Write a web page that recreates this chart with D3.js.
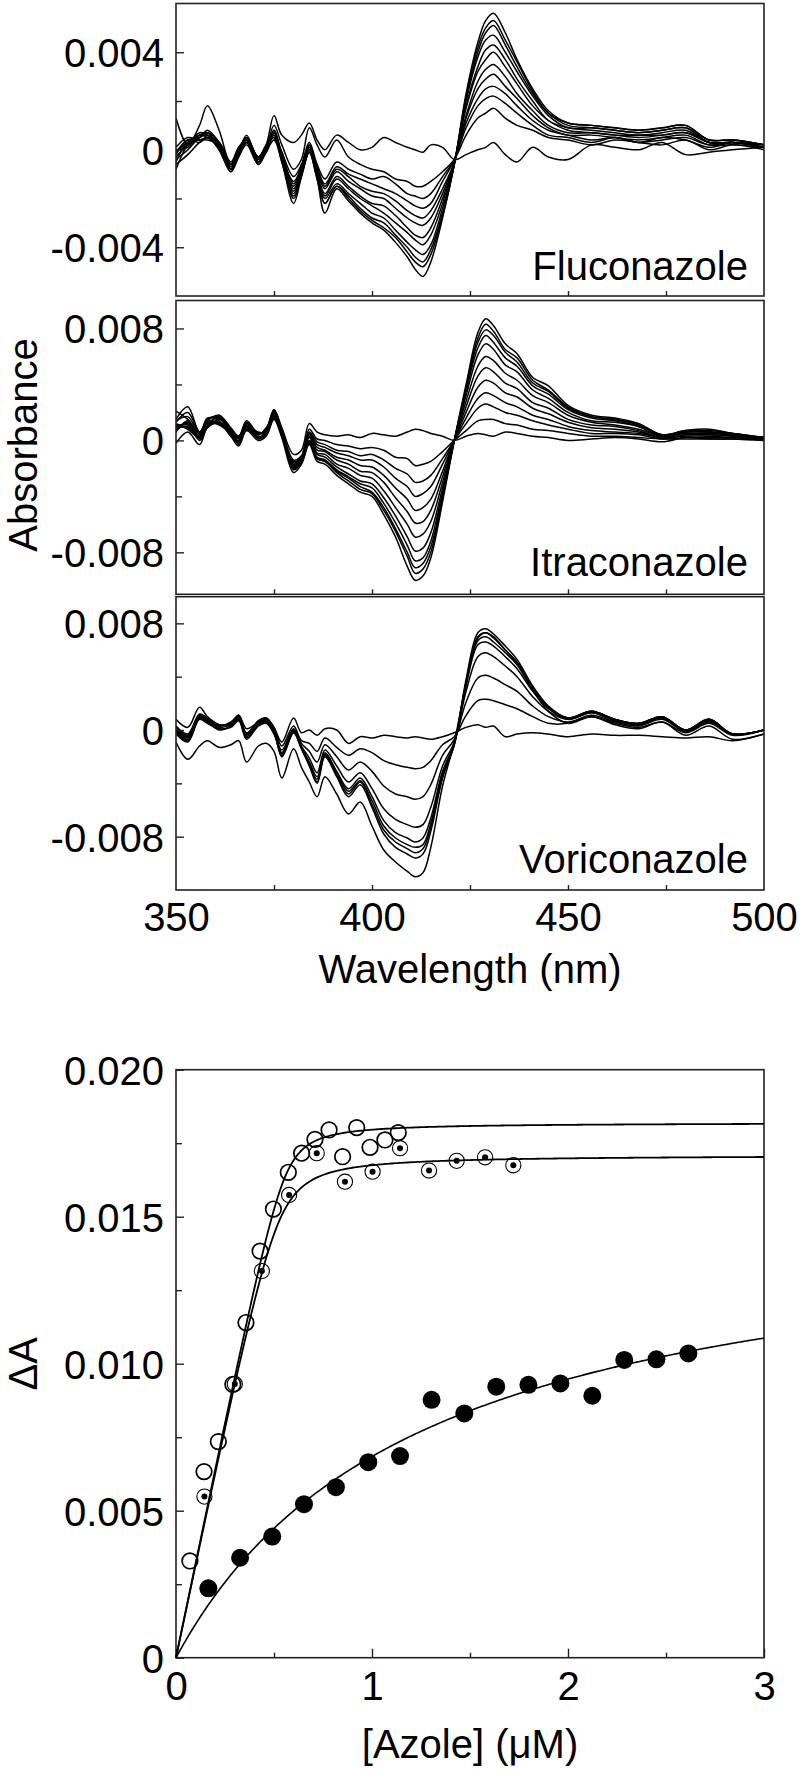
<!DOCTYPE html>
<html><head><meta charset="utf-8">
<script src="https://cdn.jsdelivr.net/npm/d3@7"></script>
<style>
body{margin:0;background:#fff}
svg{display:block}
text{font-family:"Liberation Sans",Arial,Helvetica,sans-serif;fill:#000}
</style>
</head><body>
<svg id="c" width="800" height="1769"></svg>
<script>
// ---------- Spectra data (absorbance in units of 0.001) ----------
const wavelengths = [350,353,356,358,361,364,366,368,371,373,375,377,380,382,384,386,388,391,394,397,400,403,406,409,411,413,415,418,421,424,427,429,431,434,437,441,445,450,456,462,468,474,480,486,492,500];

const fluconazoleCurves = [
 [1.3,0.2,1.0,1.8,0.8,-0.6,0.0,0.5,-0.3,0.2,1.4,0.6, 0.3,0.6,1.1,0.4,0.0,0.6,0.3,0.0,0.1,0.5, 0.3,0.1,0.0,-0.1,0.2,0.1,-0.4,-0.2,0.0,0.1, 0.3,-0.2,-0.5,0.1,-0.3,-0.4,0.2,0.1,0.0,0.3, -0.2,-0.1,0.0,0.1],
 [-0.1,0.4,0.5,0.8,0.3,-0.6,0.0,0.4,-0.3,0.1,1.0,0.2, -0.8,-0.4,0.9,0.2,-0.3,0.4,-0.3,-0.6,-0.8,-0.9, -1.2,-1.3,-1.5,-1.5,-1.3,-0.9,-0.4,0.6,1.3,1.5, 1.7,1.3,1.0,0.8,0.5,0.4,0.2,0.4,0.3,0.2, 0.4,0.0,0.2,0.0],
 [-0.8,0.2,0.6,0.7,0.1,-0.8,-0.2,0.5,-0.5,0.0,0.7,-0.1, -1.1,-0.6,0.3,-0.6,-1.2,-0.5,-0.8,-1.0,-1.2,-1.1, -1.4,-1.8,-1.9,-2.0,-1.8,-1.1,-0.4,0.9,1.8,2.1, 2.2,1.9,1.5,1.0,0.6,0.5,0.3,0.5,0.3,0.4, 0.5,0.2,0.3,0.1],
 [0.1,0.5,0.4,0.5,0.3,-0.5,0.1,0.3,-0.3,0.2,0.5,-0.3, -1.3,-0.7,0.2,-0.7,-1.4,-0.7,-1.0,-1.2,-1.4,-1.6, -1.8,-2.1,-2.3,-2.4,-2.2,-1.3,-0.4,1.1,2.1,2.5, 2.6,2.3,1.8,1.2,0.8,0.6,0.4,0.5,0.3,0.5, 0.4,0.1,0.3,0.1],
 [-0.3,0.2,0.7,0.6,0.0,-0.9,-0.1,0.4,-0.5,-0.1,0.8,-0.2, -1.4,-0.7,0.2,-0.8,-1.5,-0.8,-1.1,-1.5,-1.7,-1.8, -2.1,-2.5,-2.7,-2.8,-2.5,-1.6,-0.5,1.3,2.5,2.9, 3.1,2.6,2.1,1.4,0.9,0.6,0.6,0.5,0.4,0.5, 0.6,0.2,0.2,0.1],
 [-0.5,0.3,0.4,0.4,0.2,-0.7,0.0,0.5,-0.4,0.1,0.6,-0.4, -1.5,-0.8,0.1,-0.8,-1.6,-0.9,-1.3,-1.6,-1.9,-2.0, -2.4,-2.8,-3.0,-3.1,-2.8,-1.8,-0.5,1.4,2.8,3.3, 3.5,3.0,2.3,1.6,1.0,0.7,0.7,0.6,0.5,0.6, 0.7,0.3,0.3,0.1],
 [0.0,0.1,0.6,0.7,0.3,-0.6,-0.2,0.3,-0.5,0.0,0.4,-0.1, -1.6,-0.9,0.1,-0.9,-1.8,-1.1,-1.5,-1.9,-2.2,-2.3, -2.7,-3.2,-3.5,-3.6,-3.2,-2.0,-0.5,1.7,3.2,3.7, 4.0,3.4,2.7,1.8,1.2,0.8,0.7,0.6,0.6,0.6, 0.7,0.3,0.3,0.1],
 [-0.2,0.4,0.3,0.5,0.1,-0.8,0.1,0.4,-0.3,-0.1,0.7,-0.3, -1.7,-0.9,0.0,-1.0,-1.9,-1.2,-1.6,-2.0,-2.3,-2.6, -3.0,-3.4,-3.7,-3.9,-3.5,-2.2,-0.5,1.8,3.4,4.1, 4.3,3.7,2.9,2.0,1.2,0.9,0.8,0.7,0.6,0.7, 0.8,0.3,0.3,0.2],
 [-0.4,0.0,0.5,0.6,0.2,-0.7,-0.1,0.6,-0.4,0.1,0.5,-0.2, -1.8,-1.0,0.0,-1.1,-2.0,-1.4,-1.8,-2.2,-2.6,-2.8, -3.3,-3.8,-4.1,-4.3,-3.9,-2.4,-0.6,2.0,3.8,4.5, 4.7,4.0,3.2,2.2,1.4,0.9,0.9,0.8,0.7,0.8, 0.9,0.3,0.3,0.2],
 [-0.1,0.3,0.6,0.5,0.1,-0.6,0.0,0.3,-0.6,0.0,0.6,-0.5, -1.9,-1.0,-0.1,-1.1,-2.2,-1.5,-1.9,-2.4,-2.8,-3.0, -3.5,-4.0,-4.4,-4.6,-4.1,-2.6,-0.6,2.1,4.0,4.8, 5.1,4.3,3.4,2.3,1.5,1.0,0.9,0.8,0.7,0.8, 0.9,0.4,0.4,0.2],
 [-0.3,0.2,0.5,0.7,0.3,-0.8,-0.2,0.4,-0.4,0.1,0.8,-0.3, -2.0,-1.1,-0.1,-1.2,-2.2,-1.5,-2.0,-2.5,-2.9,-3.2, -3.6,-4.2,-4.6,-4.8,-4.3,-2.7,-0.6,2.2,4.2,5.0, 5.3,4.5,3.6,2.4,1.5,1.1,1.0,0.9,0.8,0.9, 1.0,0.4,0.4,0.2],
 [-0.6,-0.2,0.3,0.5,0.0,-0.9,-0.3,0.2,-0.6,-0.1,0.4,-0.5, -2.2,-1.1,-0.1,-1.2,-2.6,-1.6,-2.1,-2.6,-3.0,-3.3, -3.8,-4.4,-4.9,-5.2,-4.6,-2.8,-0.6,2.3,4.4,5.3, 5.6,4.8,3.7,2.5,1.6,1.1,1.0,0.9,0.8,0.9, 1.0,0.4,0.4,0.2]
];

const itraconazoleCurves = [
 [1.5,2.4,0.6,1.4,1.8,0.9,0.3,1.2,0.5,0.8,2.2,0.9, -1.0,-0.7,1.2,0.6,0.4,0.3,0.4,0.2,0.5,0.4, 0.3,0.6,0.8,0.7,0.5,0.3,0.0,0.3,0.5,0.4, 0.3,0.6,0.5,0.3,0.2,0.0,0.1,0.2,0.1,-0.1, 0.2,0.1,0.1,0.0],
 [1.3,2.0,0.6,1.5,1.7,0.8,0.3,1.4,0.5,0.8,2.2,0.8, -1.4,-1.1,0.8,0.1,0.0,-0.3,-0.4,-0.6,-0.5,-0.7, -1.2,-1.3,-1.8,-1.7,-1.5,-0.8,0.0,0.7,1.4,1.5, 1.5,1.2,1.1,0.8,0.7,0.5,0.3,0.3,0.2,0.1, 0.1,0.1,0.1,0.0],
 [0.8,1.0,0.2,1.1,1.3,0.4,-0.1,0.9,0.2,0.5,1.7,0.5, -1.5,-1.2,0.6,-0.1,-0.3,-0.7,-0.8,-1.1,-1.0,-1.4, -2.0,-2.4,-3.0,-2.9,-2.5,-1.3,0.0,1.2,2.3,2.6, 2.4,2.0,1.8,1.4,1.1,0.8,0.5,0.5,0.4,0.1, 0.2,0.2,0.2,0.1],
 [2.1,1.5,0.5,1.0,1.8,0.7,0.2,0.7,0.5,0.7,2.0,0.4, -1.6,-1.2,0.5,-0.3,-0.5,-0.9,-1.1,-1.4,-1.4,-1.9, -2.7,-3.3,-4.0,-3.8,-3.3,-1.7,0.0,1.6,3.0,3.4, 3.2,2.7,2.4,1.8,1.5,1.0,0.7,0.6,0.5,0.2, 0.3,0.3,0.2,0.1],
 [0.9,1.2,0.1,1.4,1.2,0.5,-0.3,1.1,0.1,0.4,1.8,0.7, -1.7,-1.3,0.4,-0.5,-0.7,-1.2,-1.4,-1.8,-1.9,-2.5, -3.4,-4.2,-5.0,-4.8,-4.2,-2.2,0.0,2.0,3.8,4.3, 4.1,3.4,3.1,2.3,1.9,1.3,0.9,0.8,0.6,0.2, 0.4,0.4,0.3,0.1],
 [1.2,0.9,0.4,1.6,1.4,0.3,0.0,1.2,0.4,0.9,1.6,0.5, -1.8,-1.4,0.3,-0.7,-0.8,-1.4,-1.7,-2.2,-2.3,-3.0, -4.1,-5.1,-5.9,-5.8,-5.0,-2.6,0.0,2.4,4.6,5.2, 4.9,4.1,3.7,2.7,2.3,1.5,1.1,1.0,0.7,0.2, 0.4,0.4,0.3,0.1],
 [0.6,1.4,0.3,1.2,1.6,0.6,0.2,0.8,0.2,0.5,1.9,0.6, -1.9,-1.4,0.2,-0.9,-1.0,-1.7,-2.0,-2.5,-2.7,-3.6, -4.8,-6.0,-6.9,-6.7,-5.8,-3.0,0.0,2.8,5.3,6.0, 5.7,4.8,4.3,3.2,2.7,1.8,1.3,1.1,0.8,0.3, 0.5,0.5,0.4,0.1],
 [1.0,1.1,0.0,0.9,1.5,0.8,-0.2,1.0,0.6,0.6,2.1,0.3, -1.9,-1.5,0.0,-1.0,-1.2,-1.9,-2.4,-2.9,-3.1,-4.1, -5.4,-6.9,-7.9,-7.7,-6.6,-3.4,0.0,3.2,6.1,6.9, 6.5,5.4,4.9,3.6,3.0,2.0,1.4,1.3,1.0,0.3, 0.6,0.6,0.4,0.2],
 [1.4,1.7,0.5,1.3,1.1,0.5,0.1,0.9,0.3,0.4,1.7,0.6, -2.0,-1.5,0.0,-1.2,-1.4,-2.1,-2.6,-3.1,-3.4,-4.5, -5.9,-7.5,-8.6,-8.4,-7.2,-3.7,0.0,3.5,6.6,7.5, 7.0,5.9,5.3,3.9,3.3,2.2,1.6,1.4,1.0,0.3, 0.6,0.6,0.4,0.2],
 [0.7,1.3,0.3,1.5,1.6,0.4,-0.1,1.3,0.2,0.7,2.0,0.4, -2.0,-1.6,-0.1,-1.3,-1.5,-2.2,-2.7,-3.3,-3.7,-4.8, -6.3,-8.0,-9.1,-8.8,-7.6,-4.0,0.0,3.7,7.0,7.9, 7.5,6.3,5.6,4.1,3.5,2.3,1.7,1.5,1.1,0.4, 0.6,0.6,0.5,0.2],
 [1.1,0.8,0.2,1.1,1.3,0.7,0.3,1.0,0.5,0.6,1.8,0.7, -2.1,-1.6,-0.2,-1.3,-1.5,-2.3,-2.9,-3.5,-3.8,-5.0, -6.5,-8.3,-9.5,-9.2,-8.0,-4.1,0.0,3.8,7.3,8.3, 7.8,6.5,5.9,4.3,3.6,2.4,1.7,1.5,1.2,0.4, 0.7,0.7,0.5,0.2],
 [-0.2,0.6,-0.3,0.9,1.2,0.3,-0.4,0.7,0.0,0.3,1.5,0.2, -2.3,-1.7,-0.3,-1.5,-1.7,-2.5,-3.1,-3.7,-4.0,-5.3, -6.9,-9.0,-10.0,-9.7,-8.4,-4.4,0.0,4.0,7.7,8.7, 8.2,6.9,6.2,4.5,3.9,2.5,1.8,1.6,1.2,0.4, 0.7,0.8,0.5,0.2]
];

const voriconazoleCurves = [
 [0.8,0.2,1.7,1.0,0.4,0.5,1.1,0.1,0.6,0.9,0.2,-0.9, 0.9,-0.2,0.0,-0.4,0.1,0.0,-1.0,-0.5,-0.6,-0.4, -0.5,-0.6,-0.5,-0.6,-0.7,-0.5,-0.2,0.2,0.4,0.2, 0.3,-0.5,-0.3,-0.2,-0.3,-0.5,-0.3,-0.4,-0.4,-0.5, -0.6,-0.5,-0.8,-0.3],
 [0.3,-0.3,1.2,0.9,0.4,0.5,1.0,-0.2,0.6,0.8,0.2,-1.2, 0.3,-0.8,-1.0,-1.6,-0.6,-1.3,-1.9,-1.4,-1.7,-2.3, -2.6,-2.8,-2.9,-2.8,-2.3,-1.1,-0.5,1.1,2.2,2.3, 2.2,1.9,1.6,1.0,0.5,0.5,1.0,0.5,0.2,0.6, -0.2,0.5,-0.4,0.0],
 [-0.2,-0.8,0.9,0.6,0.0,0.3,0.8,-0.6,0.4,0.6,-0.2,-1.5, 0.1,-1.0,-1.6,-2.4,-1.1,-2.0,-3.0,-2.4,-3.1,-4.2, -4.8,-5.0,-5.2,-5.0,-4.1,-1.9,-0.7,2.1,3.9,4.1, 3.9,3.4,2.9,1.8,1.0,0.6,1.1,0.6,0.3,0.8, -0.1,0.6,-0.3,0.0],
 [0.1,-0.5,1.1,0.8,0.3,0.6,1.1,-0.3,0.7,0.9,0.1,-1.7, 0.0,-1.2,-2.1,-3.2,-1.5,-2.7,-3.9,-3.2,-4.4,-5.9, -6.7,-7.1,-7.3,-7.1,-5.8,-2.7,-0.9,2.9,5.5,5.8, 5.5,4.8,4.0,2.5,1.4,0.8,1.3,0.7,0.4,0.9, -0.1,0.7,-0.3,0.0],
 [-0.3,-0.9,0.8,0.5,0.1,0.2,0.7,-0.7,0.3,0.5,-0.3,-1.8, -0.1,-1.3,-2.4,-3.5,-1.7,-3.1,-4.4,-3.6,-5.0,-6.8, -7.7,-8.1,-8.4,-8.1,-6.6,-3.1,-1.0,3.3,6.4,6.6, 6.3,5.5,4.6,2.9,1.6,0.8,1.3,0.7,0.4,0.9, 0.0,0.7,-0.3,0.0],
 [0.2,-0.4,1.0,0.7,0.2,0.4,0.9,-0.4,0.5,0.7,0.0,-1.9, -0.1,-1.3,-2.5,-3.7,-1.8,-3.2,-4.6,-3.8,-5.3,-7.2, -8.1,-8.6,-8.8,-8.6,-7.0,-3.3,-1.0,3.5,6.7,7.0, 6.6,5.8,4.9,3.0,1.7,0.9,1.4,0.8,0.5,1.0, 0.0,0.8,-0.3,0.0],
 [-0.1,-0.7,1.1,0.6,0.3,0.5,0.8,-0.5,0.4,0.8,-0.1,-2.0, -0.2,-1.4,-2.6,-3.9,-1.9,-3.4,-4.8,-3.9,-5.6,-7.5, -8.4,-8.9,-9.2,-8.9,-7.3,-3.5,-1.1,3.6,7.0,7.3, 6.9,6.0,5.1,3.2,1.7,0.9,1.4,0.8,0.5,1.0, 0.0,0.8,-0.3,0.0],
 [0.0,-0.6,0.9,0.8,0.1,0.3,1.0,-0.3,0.6,0.6,0.0,-2.0, -0.2,-1.4,-2.7,-4.0,-2.0,-3.5,-5.0,-4.1,-5.8,-7.8, -8.8,-9.3,-9.6,-9.3,-7.6,-3.6,-1.1,3.8,7.3,7.6, 7.2,6.3,5.3,3.3,1.8,0.9,1.4,0.8,0.5,1.0, 0.0,0.8,-0.3,0.0],
 [-0.9,-2.2,-1.2,-0.8,-1.3,-1.1,-0.8,-2.4,-1.2,-1.0,-1.6,-3.6, -1.4,-2.8,-3.9,-5.0,-3.5,-4.8,-6.3,-5.4,-7.2,-9.0, -9.9,-10.6,-11.0,-10.7,-8.8,-4.2,-0.9,3.5,6.9,7.3, 7.0,6.0,5.0,3.0,1.4,0.5,1.0,0.4,0.1,0.6, -0.4,0.3,-0.7,-0.3]
];

const specNames = ["Fluconazole","Itraconazole","Voriconazole"];
const specYDomains = [[-0.006,0.006],[-0.011,0.010],[-0.012,0.010]];
const specYTicks = [[-0.004,0,0.004],[-0.008,0,0.008],[-0.008,0,0.008]];
const specYTickLabels = [["-0.004","0","0.004"],["-0.008","0","0.008"],["-0.008","0","0.008"]];
const specYMinor = [[-0.002,0.002],[-0.004,0.004],[-0.004,0.004]];
const specXTicks = [350,400,450,500];
const specXTickLabels = ["350","400","450","500"];
const specXMinor = [375,400,425,450,475];

// ---------- Titration data ----------
const openX = [0.071,0.143,0.216,0.29,0.357,0.429,0.497,0.573,0.641,0.709,0.781,0.85,0.922,0.99,1.066,1.134];
const openY = [0.00329,0.00633,0.00735,0.0093,0.0114,0.01383,0.01526,0.01651,0.01716,0.01763,0.01795,0.01704,0.01803,0.01736,0.01761,0.01786];
const dotX = [0.145,0.3,0.438,0.577,0.718,0.862,1.003,1.143,1.291,1.432,1.577,1.721];
const dotY = [0.00548,0.00931,0.01315,0.01574,0.01716,0.01619,0.01653,0.01733,0.01657,0.0169,0.01702,0.01675];
const filledX = [0.165,0.327,0.491,0.653,0.816,0.981,1.143,1.304,1.471,1.634,1.798,1.961,2.124,2.287,2.451,2.614];
const filledY = [0.00236,0.0034,0.00412,0.00522,0.0058,0.00665,0.00686,0.00877,0.00831,0.00922,0.00928,0.00933,0.00891,0.01013,0.01015,0.01035];
// fitted binding parameters
const fitOpen = {amax:0.0182, enz:0.56, kd:0.006};
const fitDot = {amax:0.0171, enz:0.53, kd:0.010};
const fitFilled = {amax:0.0154, kd:1.25};
const bindYTicks = [0,0.005,0.010,0.015,0.020];
const bindYTickLabels = ["0","0.005","0.010","0.015","0.020"];
const bindYMinor = [0.0025,0.0075,0.0125,0.0175];
const bindXTicks = [0,1,2,3];
const bindXTickLabels = ["0","1","2","3"];
const bindXMinor = [0.5,1.5,2.5];

// ---------- Drawing ----------
const svg = d3.select("#c");
const FONT = 40;
const X0 = 176, X1 = 764;
const panelBoxes = [{top:3.5,bottom:296},{top:300.5,bottom:594.3},{top:596.7,bottom:890}];
const allCurves = [fluconazoleCurves, itraconazoleCurves, voriconazoleCurves];
const x = d3.scaleLinear().domain([350,500]).range([X0,X1]);

function styleAxis(g){
  g.select(".domain").remove();
  g.selectAll(".tick line").attr("stroke","#222").attr("stroke-width",1.4);
  g.selectAll(".tick text").attr("font-size",FONT).attr("font-family","Liberation Sans, Arial, sans-serif").attr("fill","#000");
  g.attr("font-size",null).attr("font-family",null);
}

panelBoxes.forEach((b,pi)=>{
  const y = d3.scaleLinear().domain(specYDomains[pi]).range([b.bottom,b.top]);
  const g = svg.append("g");
  const clipId = "clip"+pi;
  svg.append("clipPath").attr("id",clipId).append("rect")
    .attr("x",X0).attr("y",b.top).attr("width",X1-X0).attr("height",b.bottom-b.top);
  const line = d3.line()
    .x((d,i)=>x(wavelengths[i]))
    .y(d=>y(d*0.001))
    .curve(d3.curveCatmullRom.alpha(0.5));
  g.append("g").attr("clip-path",`url(#${clipId})`)
    .selectAll("path").data(allCurves[pi]).join("path")
    .attr("d",line).attr("fill","none").attr("stroke","#000").attr("stroke-width",1.5).attr("stroke-linejoin","round");

  const ya = g.append("g").attr("transform",`translate(${X0},0)`)
    .call(d3.axisLeft(y).tickValues(specYTicks[pi]).tickSize(-8).tickPadding(12)
      .tickFormat((d,i)=>specYTickLabels[pi][i]));
  styleAxis(ya);
  ya.selectAll(".tick text").attr("dy","0.36em");
  const ym = g.append("g").attr("transform",`translate(${X0},0)`)
    .call(d3.axisLeft(y).tickValues(specYMinor[pi]).tickSize(-6).tickFormat(()=>""));
  styleAxis(ym);
  const xm = g.append("g").attr("transform",`translate(0,${b.bottom})`)
    .call(d3.axisBottom(x).tickValues(specXMinor).tickSize(-5).tickFormat(()=>""));
  styleAxis(xm);
  if(pi===2){
    const xa = g.append("g").attr("transform",`translate(0,${b.bottom})`)
      .call(d3.axisBottom(x).tickValues(specXTicks).tickSize(0).tickPadding(13)
        .tickFormat((d,i)=>specXTickLabels[i]));
    styleAxis(xa);
  }
  g.append("rect").attr("x",X0).attr("y",b.top).attr("width",X1-X0).attr("height",b.bottom-b.top)
    .attr("fill","none").attr("stroke","#222").attr("stroke-width",1.6);
  const lblY = [280,576,872.7][pi];
  g.append("text").attr("x",748).attr("y",lblY).attr("text-anchor","end")
    .attr("font-size",FONT).text(specNames[pi]);
});

svg.append("text").attr("transform","translate(37,445) rotate(-90)").attr("text-anchor","middle")
  .attr("font-size",FONT).text("Absorbance");
svg.append("text").attr("x",470).attr("y",983).attr("text-anchor","middle")
  .attr("font-size",FONT).text("Wavelength (nm)");

// ---------- Titration chart ----------
const bTop = 1069.7, bBot = 1657.7;
const bx = d3.scaleLinear().domain([0,3]).range([X0,X1]);
const by = d3.scaleLinear().domain([0,0.020]).range([bBot,bTop]);
const bg = svg.append("g");

const ya2 = bg.append("g").attr("transform",`translate(${X0},0)`)
  .call(d3.axisLeft(by).tickValues(bindYTicks).tickSize(-8).tickPadding(12)
    .tickFormat((d,i)=>bindYTickLabels[i]));
styleAxis(ya2);
ya2.selectAll(".tick text").attr("dy","0.36em");
const ym2 = bg.append("g").attr("transform",`translate(${X0},0)`)
  .call(d3.axisLeft(by).tickValues(bindYMinor).tickSize(-6).tickFormat(()=>""));
styleAxis(ym2);
const xa2 = bg.append("g").attr("transform",`translate(0,${bBot})`)
  .call(d3.axisBottom(bx).tickValues(bindXTicks).tickSize(-9).tickPadding(14)
    .tickFormat((d,i)=>bindXTickLabels[i]));
styleAxis(xa2);
const xm2 = bg.append("g").attr("transform",`translate(0,${bBot})`)
  .call(d3.axisBottom(bx).tickValues(bindXMinor).tickSize(-5).tickFormat(()=>""));
styleAxis(xm2);

bg.append("rect").attr("x",X0).attr("y",bTop).attr("width",X1-X0).attr("height",bBot-bTop)
  .attr("fill","none").attr("stroke","#222").attr("stroke-width",1.6);

function morrison(p){
  return s => { const t = s + p.enz + p.kd; return p.amax/(2*p.enz)*(t - Math.sqrt(t*t - 4*s*p.enz)); };
}
function hyperbola(p){ return s => p.amax*s/(p.kd+s); }
const sGrid = d3.range(0,3.0001,0.01);
const fitLine = d3.line().x(d=>bx(d[0])).y(d=>by(d[1]));
[[morrison(fitOpen),1.8],[morrison(fitDot),1.8],[hyperbola(fitFilled),1.6]].forEach(([f,w])=>{
  bg.append("path").attr("d",fitLine(sGrid.map(s=>[s,f(s)])))
    .attr("fill","none").attr("stroke","#000").attr("stroke-width",w);
});

const filledPts = filledX.map((v,i)=>[v,filledY[i]]);
const openPts = openX.map((v,i)=>[v,openY[i]]);
const dotPts = dotX.map((v,i)=>[v,dotY[i]]);
bg.selectAll("circle.fill").data(filledPts).join("circle").attr("class","fill")
  .attr("cx",d=>bx(d[0])).attr("cy",d=>by(d[1])).attr("r",9).attr("fill","#000");
bg.selectAll("circle.open").data(openPts).join("circle").attr("class","open")
  .attr("cx",d=>bx(d[0])).attr("cy",d=>by(d[1])).attr("r",7.8).attr("fill","none")
  .attr("stroke","#000").attr("stroke-width",1.7);
bg.selectAll("circle.ring").data(dotPts).join("circle").attr("class","ring")
  .attr("cx",d=>bx(d[0])).attr("cy",d=>by(d[1])).attr("r",7.6).attr("fill","none")
  .attr("stroke","#000").attr("stroke-width",1.1);
bg.selectAll("circle.dot").data(dotPts).join("circle").attr("class","dot")
  .attr("cx",d=>bx(d[0])).attr("cy",d=>by(d[1])).attr("r",3).attr("fill","#000");

svg.append("text").attr("transform",`translate(37,${(bTop+bBot)/2}) rotate(-90)`).attr("text-anchor","middle")
  .attr("font-size",FONT).text("ΔA");
svg.append("text").attr("x",470).attr("y",1758).attr("text-anchor","middle")
  .attr("font-size",FONT).text("[Azole] (μM)");
</script>
</body></html>
